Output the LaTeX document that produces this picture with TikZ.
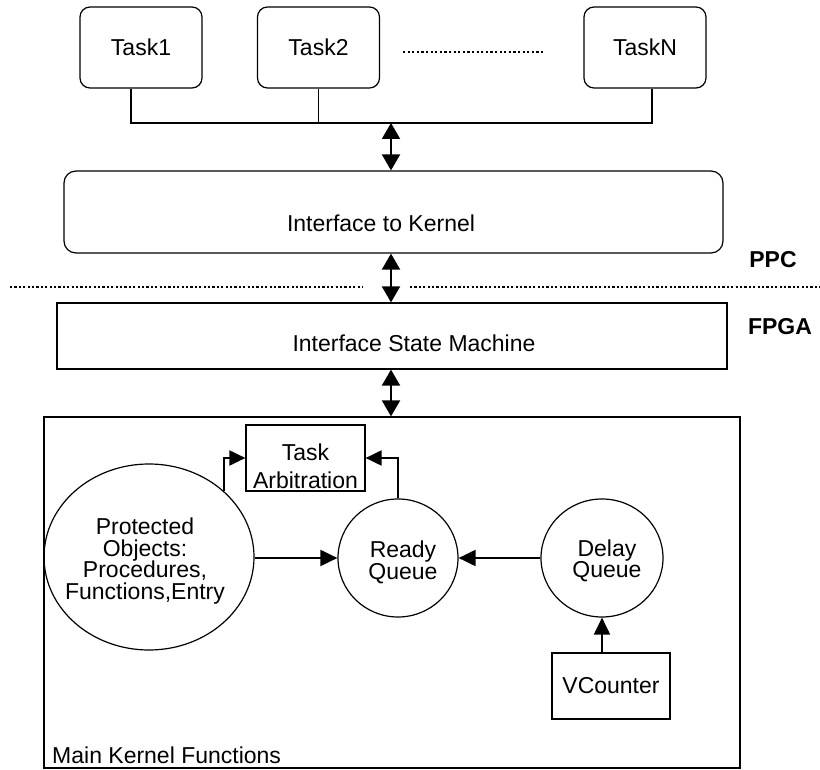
\documentclass[tikz,border=0pt]{standalone}
\usepackage{fontspec}
\setmainfont{Liberation Sans}
\usetikzlibrary{arrows.meta,shapes.geometric}
\begin{document}
\begin{tikzpicture}[x=1pt,y=-1pt,
  box/.style={draw, line width=1.2pt, inner sep=0pt},
  rbox/.style={box, rounded corners=10pt},
  oval/.style={draw, ellipse, line width=1.2pt, inner sep=0pt},
  lbl/.style={font=\fontsize{23}{22}\selectfont, inner sep=0pt, align=center},
  blbl/.style={font=\fontsize{23}{23}\selectfont\bfseries, inner sep=0pt},
  arr/.style={line width=2pt, -{Triangle[length=17pt,width=16pt]}},
  sarr/.style={line width=2pt, -{Triangle[length=16pt,width=15pt]}},
  dbl/.style={line width=2pt, {Triangle[length=16pt,width=18pt]}-{Triangle[length=16pt,width=18pt]}},
  dotline/.style={line width=2.5pt, dash pattern=on 2.2pt off 2.4pt},
]
\useasboundingbox (0,0) rectangle (820,770);

% tasks
\node[rbox, minimum width=122pt, minimum height=81pt, lbl] (task1) at (141,47.5) {Task1};
\node[rbox, minimum width=122pt, minimum height=81pt, lbl] (task2) at (318.5,47.5) {Task2};
\node[rbox, minimum width=122pt, minimum height=81pt, lbl] (taskN) at (645,47.5) {TaskN};
\coordinate (td1) at (403,52);
\coordinate (td2) at (543,52);
\draw[dotline] (td1) -- (td2);

% bus
\coordinate (b1) at (131,123);
\coordinate (bN) at (652,123);
\coordinate (bA) at (391,123);
\draw[line width=1.6pt] (task1.south -| b1) -- (b1) -- (bN) -- (taskN.south -| bN);
\draw[line width=1.6pt] (task2.south) -- (task2.south |- b1);

% interface to kernel
\node[rbox, rounded corners=12pt, minimum width=659pt, minimum height=82pt] (ik) at (393.5,212) {};
\node[lbl] (iktext) at (381,223) {Interface to Kernel};
\draw[dbl] (bA) -- (ik.north -| bA);

% PPC / FPGA separator
\node[blbl] (ppc) at (773,260) {PPC};
\node[blbl] (fpga) at (780,327) {FPGA};
\coordinate (dl1) at (10,287);
\coordinate (dl2) at (363,287);
\coordinate (dr1) at (410,287);
\coordinate (dr2) at (820,287);
\draw[line width=2.4pt, dash pattern=on 2.2pt off 2.2pt] (dl1) -- (dl2);
\draw[line width=2.4pt, dash pattern=on 2.2pt off 2.2pt] (dr1) -- (dr2);

% interface state machine
\node[box, minimum width=670pt, minimum height=66pt] (ism) at (392,336) {};
\node[lbl] (ismtext) at (414,343) {Interface State Machine};
\draw[dbl] (ik.south -| bA) -- (ism.north -| bA);

% main kernel
\node[box, minimum width=696pt, minimum height=351pt] (mk) at (392,592.5) {};
\node[lbl, anchor=west] (mktext) at (52,755) {Main Kernel Functions};
\draw[dbl] (ism.south -| bA) -- (mk.north -| bA);

% task arbitration
\node[box, minimum width=119pt, minimum height=66pt] (ta) at (305.5,458) {};
\node[lbl, font=\fontsize{23}{28}\selectfont] (tatext) at (305.5,466) {Task\\Arbitration};

% protected objects
\node[oval, minimum width=210pt, minimum height=186pt] (po) at (149,557) {};
\node[lbl, font=\fontsize{23}{21.7}\selectfont] (potext) at (145,561) {Protected\\Objects:\\Procedures,\\Functions,Entry};

% ready queue
\node[oval, minimum width=120pt, minimum height=118pt] (rq) at (398,558) {};
\node[lbl, font=\fontsize{23}{20.5}\selectfont] (rqtext) at (403,562) {Ready\\Queue};

% delay queue
\node[oval, minimum width=122pt, minimum height=118pt] (dq) at (602,558) {};
\node[lbl, font=\fontsize{23}{21.5}\selectfont] (dqtext) at (607,561) {Delay\\Queue};

% vcounter
\node[box, minimum width=118pt, minimum height=66pt, lbl] (vc) at (611,686) {VCounter};

% connectors
\draw[arr] (po.east |- rq.west) -- (rq.west);
\draw[arr] (dq.west) -- (rq.east);
\draw[arr] (vc.north -| dq.south) -- (dq.south);
\draw[sarr] (po.41) |- (ta.west);
\draw[sarr] (rq.north) |- (ta.east);
\end{tikzpicture}
\end{document}
